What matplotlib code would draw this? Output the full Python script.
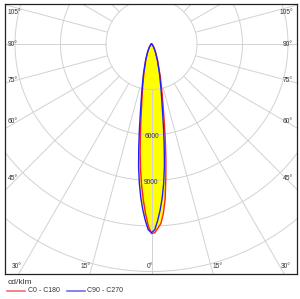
import numpy as np
import matplotlib.pyplot as plt

plt.rcParams['font.family'] = ['Liberation Sans', 'DejaVu Sans']

# intensidad (cd/klm) segun angulo desde el nadir
angulos = [0, 1, 2, 3, 4, 5, 6, 7, 8, 9, 10, 12, 15, 20, 25, 30, 35, 40, 50, 60, 70, 80, 90]
c0 = [12500, 12450, 12150, 11850, 11200, 10300, 9000, 7800, 6600, 5500, 4600, 3400, 2250,
      1200, 680, 400, 240, 150, 65, 30, 15, 5, 0]
c180 = [12500, 12000, 11200, 10300, 9350, 8300, 7150, 6000, 5000, 4200, 3600, 2750, 1900,
        1080, 620, 370, 220, 135, 58, 28, 14, 5, 0]
c90 = [12440, 12250, 11650, 10950, 10150, 9210, 8150, 6900, 5750, 4750, 4000, 3000, 2050,
       1130, 640, 380, 230, 140, 60, 30, 15, 5, 0]
c270 = c90

circulos = [3000, 6000, 9000, 12000, 15000, 18000]
etiquetas_radiales = [6000, 9000]
angulos_grid = list(range(0, 181, 15))
series = ['C0 - C180', 'C90 - C270']
unidad = 'cd/klm'

W, H = 300, 299
cx, cy = 151.5, 44.0           # centro en pixeles
escala = 3000 / 45.5           # cd por pixel
gris = '#d2d2d2'
texto = '#333333'


def curva(der, izq):
    t = np.radians(angulos)
    xd = np.array(der) * np.sin(t)
    yd = -np.array(der) * np.cos(t)
    xi = -np.array(izq) * np.sin(t)
    yi = -np.array(izq) * np.cos(t)
    x = np.concatenate([xi[::-1], xd[1:]])
    y = np.concatenate([yi[::-1], yd[1:]])
    return x, y


def px(x, y):
    return x / W, 1 - y / H


fig = plt.figure(figsize=(W / 100, H / 100), dpi=100)
left, right, top, bottom = 5, 296.7, 4, 274
ax = fig.add_axes([left / W, 1 - bottom / H, (right - left) / W, (bottom - top) / H])
ax.set_xlim((left - cx) * escala, (right - cx) * escala)
ax.set_ylim(-(bottom - cy) * escala, (cy - top) * escala)
ax.set_xticks([])
ax.set_yticks([])
for s in ax.spines.values():
    s.set_linewidth(0.9)
    s.set_color('#222222')

xr, yr = curva(c0, c180)
xb, yb = curva(c90, c270)
ax.fill(xr, yr, color='#ffff00', lw=0, zorder=1)
ax.fill(xb, yb, color='#ffff00', lw=0, zorder=1)

# rejilla
ang = np.linspace(0, 2 * np.pi, 400)
for r in circulos:
    ax.plot(r * np.sin(ang), r * np.cos(ang), color=gris, lw=0.7, zorder=2)
for a in angulos_grid:
    t = np.radians(a)
    for sgn in (1, -1):
        ax.plot([sgn * 3000 * np.sin(t), sgn * 25000 * np.sin(t)],
                [-3000 * np.cos(t), -25000 * np.cos(t)], color=gris, lw=0.7, zorder=2)

ax.plot(xr, yr, color='#ff2020', lw=1.0, zorder=3)
ax.plot(xb, yb, color='#2020ff', lw=1.0, zorder=4)

for v in etiquetas_radiales:
    ax.text(0, -v - 120, str(v), ha='center', va='center', fontsize=4.8, color=texto, zorder=5)

# etiquetas de angulos
for a in angulos_grid:
    if a > 105:
        continue
    t = np.radians(a)
    etiqueta = f'{a}°'
    if a >= 45:
        dx = cx - 17
        y = cy + dx / np.tan(t) if a != 90 else cy
        y = max(y, 12.5)
        fig.text(*px(8, y), etiqueta, ha='left', va='center', fontsize=4.8, color=texto)
        fig.text(*px(293, y), etiqueta, ha='right', va='center', fontsize=4.8, color=texto)
    elif a == 0:
        fig.text(*px(cx - 2, 267), etiqueta, ha='center', va='center', fontsize=4.8, color=texto)
    else:
        off = 223 * np.tan(t)
        xl = max(cx - off - 6.5, 14)
        xd = min(cx + off + 6.5, 286)
        fig.text(*px(xl, 267), etiqueta, ha='center', va='center', fontsize=4.8, color=texto)
        fig.text(*px(xd, 267), etiqueta, ha='center', va='center', fontsize=4.8, color=texto)

# leyenda
fig.text(*px(8, 283), unidad, ha='left', va='center', fontsize=6, color=texto)
lax = fig.add_axes([0, 0, 1, 1], facecolor='none')
lax.set_xlim(0, W)
lax.set_ylim(H, 0)
lax.axis('off')
lax.plot([7, 25], [291, 291], color='#f07070', lw=1.2)
lax.plot([67, 85], [291, 291], color='#7070f0', lw=1.2)
fig.text(*px(28, 291), series[0], ha='left', va='center', fontsize=5, color=texto)
fig.text(*px(87, 291), series[1], ha='left', va='center', fontsize=5, color=texto)

fig.savefig('out.png', dpi=100)
